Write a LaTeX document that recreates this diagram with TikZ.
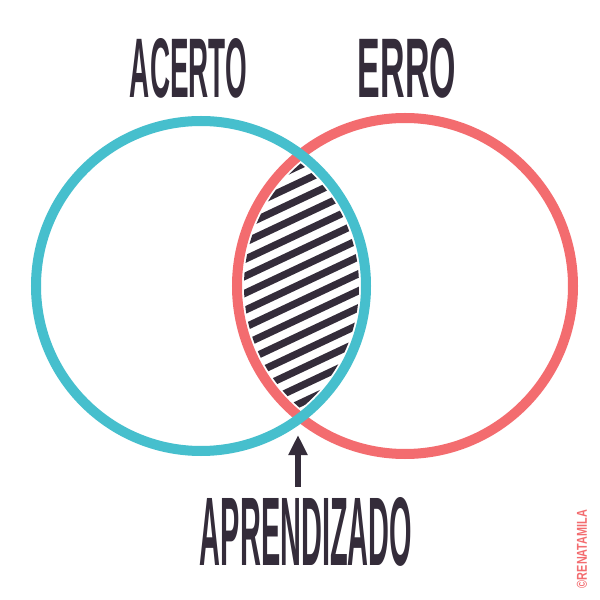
\documentclass[tikz,border=0pt]{standalone}
\usepackage{fontspec}
\setmainfont{Liberation Sans}
\usetikzlibrary{arrows.meta}
\definecolor{tealc}{HTML}{46BFCD}
\definecolor{redc}{HTML}{F36C6F}
\definecolor{inkc}{HTML}{342C3A}
\tikzset{
  ring/.style={line width=0.25cm},
  hatchline/.style={inkc, line width=0.18cm, line cap=round},
  label/.style={inner sep=0pt, text=inkc, font=\bfseries},
  pointer/.style={inkc, line width=0.17cm, -{Triangle[width=0.45cm,length=0.5cm]}}
}
\begin{document}
\begin{tikzpicture}[x=0.025cm,y=0.025cm]
\useasboundingbox (0,0) rectangle (600,600);
\fill[white] (0,0) rectangle (600,600);
% hatching in intersection
\begin{scope}
  \clip (201,314) circle [radius=158];
  \clip (405,314) circle [radius=161];
  \foreach \k in {0,...,26} {
    \pgfmathsetmacro{\yy}{40+17*\k}
    \draw[hatchline] (220,\yy) -- (390,\yy+80);
  }
\end{scope}
% circles
\draw[ring, redc] (405,314) circle [radius=168];
\draw[ring, tealc] (201,314) circle [radius=165];
% labels
\node[label] (acerto) at (188.5,532) {\resizebox{2.925cm}{1.475cm}{ACERTO}};
\node[label] (erro) at (407,532) {\resizebox{2.45cm}{1.475cm}{ERRO}};
\node[label] (aprend) at (306,68) {\resizebox{5.3cm}{1.7cm}{APRENDIZADO}};
\coordinate (meet) at (298,165);
\coordinate (tail) at (298,113);
\draw[pointer] (tail) -- (meet);
\node[inner sep=0pt, text=redc, rotate=90, font=\bfseries] (copy) at (582,51) {\resizebox{1.95cm}{0.25cm}{©RENATAMILA}};
\end{tikzpicture}
\end{document}
